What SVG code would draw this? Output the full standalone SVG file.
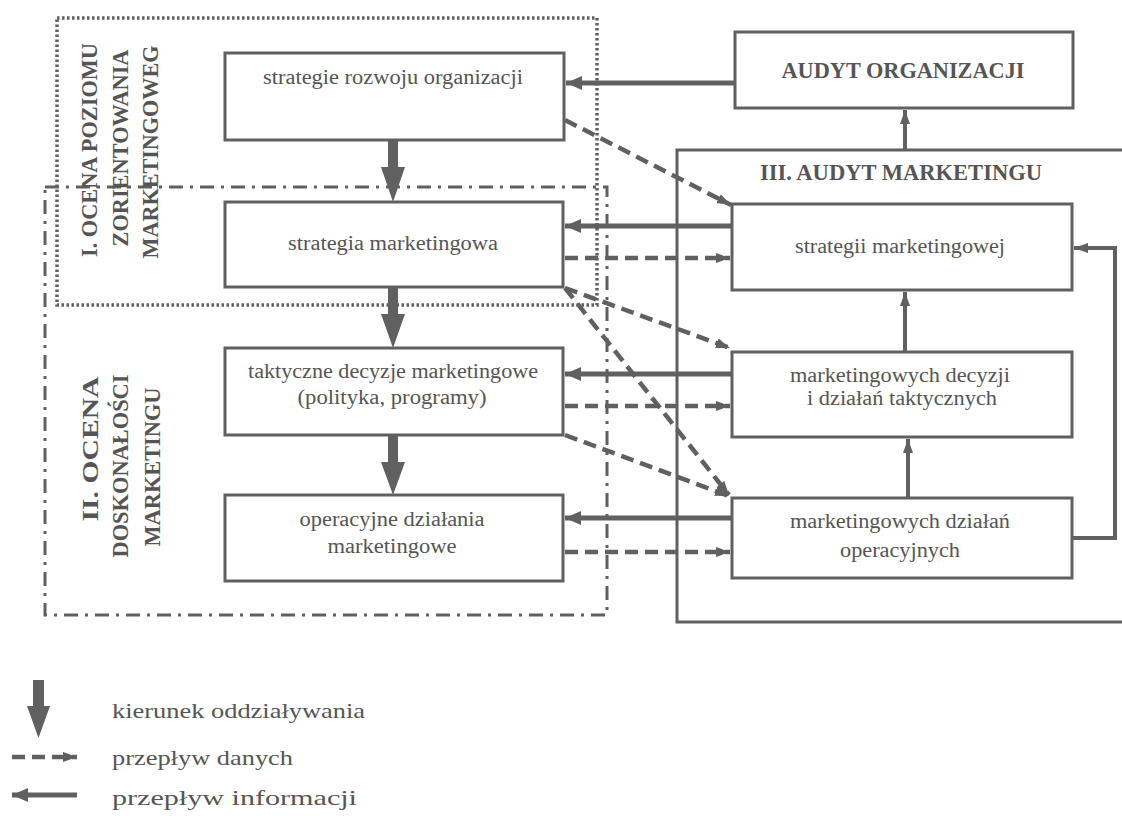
<svg xmlns="http://www.w3.org/2000/svg" width="1122" height="816" viewBox="0 0 1122 816">
<style>
.box{fill:#fff;stroke:#606060;stroke-width:3}
.t{font-family:"Liberation Serif","DejaVu Serif",serif;font-size:20px;fill:#555;text-anchor:middle}
.tb{font-family:"Liberation Serif","DejaVu Serif",serif;font-size:23px;font-weight:bold;fill:#555;text-anchor:middle}
.tv{font-family:"Liberation Serif","DejaVu Serif",serif;font-size:24px;font-weight:bold;fill:#555;text-anchor:middle}
.lg{font-family:"Liberation Serif","DejaVu Serif",serif;font-size:22px;fill:#555}
.info{stroke:#606060;stroke-width:5;fill:none}
.data{stroke:#606060;stroke-width:4.5;fill:none;stroke-dasharray:13 7}
.thin{stroke:#606060;stroke-width:4;fill:none}
.big{fill:#606060}
</style>
<defs>
<marker id="ah" markerUnits="userSpaceOnUse" markerWidth="18" markerHeight="16" refX="16" refY="8" orient="auto">
<path d="M0,1 L16,8 L0,15 Z" fill="#606060"/>
</marker>
<marker id="ahs" markerUnits="userSpaceOnUse" markerWidth="16" markerHeight="12" refX="14" refY="6" orient="auto">
<path d="M0,1 L14,6 L0,11 Z" fill="#606060"/>
</marker>
</defs>

<rect width="1122" height="816" fill="#fff"/>

<!-- region frames -->
<g id="frames">
<rect x="57" y="18" width="540" height="287" fill="none" stroke="#606060" stroke-width="3.5" stroke-dasharray="2.5 2.5"/>
<rect x="45" y="187" width="562" height="428" fill="none" stroke="#606060" stroke-width="3" stroke-dasharray="14 7 3 7"/>
<path d="M1122,150 L677,150 L677,622 L1122,622" fill="none" stroke="#606060" stroke-width="3"/>
</g>

<g id="label-I">
<text class="tv" transform="translate(97,150) rotate(-90)" textLength="214" lengthAdjust="spacingAndGlyphs">I. OCENA POZIOMU</text>
<text class="tv" transform="translate(128,148) rotate(-90)" textLength="197" lengthAdjust="spacingAndGlyphs">ZORIENTOWANIA</text>
<text class="tv" transform="translate(158,152) rotate(-90)" textLength="213" lengthAdjust="spacingAndGlyphs">MARKETINGOWEG</text>
</g>
<g id="label-II">
<text class="tv" transform="translate(98,449) rotate(-90)" textLength="145" lengthAdjust="spacingAndGlyphs">II. OCENA</text>
<text class="tv" transform="translate(128,466) rotate(-90)" textLength="183" lengthAdjust="spacingAndGlyphs">DOSKONAŁOŚCI</text>
<text class="tv" transform="translate(160,467) rotate(-90)" textLength="159" lengthAdjust="spacingAndGlyphs">MARKETINGU</text>
</g>
<g id="label-III">
<text class="tb" x="901" y="180" textLength="282" lengthAdjust="spacingAndGlyphs">III. AUDYT MARKETINGU</text>
</g>

<!-- connectors -->
<g id="connectors">
<!-- influence (big down arrows) -->
<path class="big" d="M388,140 H398 V167 H405 L393,202 L381,167 H388 Z"/>
<path class="big" d="M388,287 H398 V314 H405 L393,348 L381,314 H388 Z"/>
<path class="big" d="M388,435 H398 V462 H405 L393,495 L381,462 H388 Z"/>
<!-- info flow -->
<line class="info" x1="735" y1="83" x2="566" y2="83" marker-end="url(#ah)"/>
<line class="info" x1="732" y1="226" x2="565" y2="226" marker-end="url(#ah)"/>
<line class="info" x1="732" y1="374" x2="565" y2="374" marker-end="url(#ah)"/>
<line class="info" x1="732" y1="518" x2="565" y2="518" marker-end="url(#ah)"/>
<!-- upward audits -->
<line class="thin" x1="905" y1="150" x2="905" y2="110" marker-end="url(#ahs)"/>
<line class="thin" x1="905" y1="352" x2="905" y2="292" marker-end="url(#ahs)"/>
<line class="thin" x1="908" y1="498" x2="908" y2="439" marker-end="url(#ahs)"/>
<path class="thin" d="M1072,538 H1115 V248 H1074" marker-end="url(#ahs)"/>
<!-- data flow -->
<line class="data" x1="565" y1="258" x2="730" y2="258" marker-end="url(#ahs)"/>
<line class="data" x1="565" y1="406" x2="730" y2="406" marker-end="url(#ahs)"/>
<line class="data" x1="565" y1="552" x2="730" y2="552" marker-end="url(#ahs)"/>
<line class="data" x1="565" y1="120" x2="731" y2="205" marker-end="url(#ahs)"/>
<line class="data" x1="565" y1="288" x2="730" y2="348" marker-end="url(#ahs)"/>
<line class="data" x1="565" y1="288" x2="729" y2="495" marker-end="url(#ahs)"/>
<line class="data" x1="565" y1="435" x2="729" y2="496" marker-end="url(#ahs)"/>
</g>

<!-- nodes -->
<g id="n-rozwoj">
<rect class="box" x="225" y="53" width="339" height="87"/>
<text class="t" x="393" y="84" textLength="260" lengthAdjust="spacingAndGlyphs">strategie rozwoju organizacji</text>
</g>
<g id="n-strat">
<rect class="box" x="225" y="202" width="338" height="85"/>
<text class="t" x="393" y="250" textLength="210" lengthAdjust="spacingAndGlyphs">strategia marketingowa</text>
</g>
<g id="n-takt">
<rect class="box" x="225" y="348" width="338" height="87"/>
<text class="t" x="393" y="378" textLength="290" lengthAdjust="spacingAndGlyphs">taktyczne decyzje marketingowe</text>
<text class="t" x="392" y="404" textLength="189" lengthAdjust="spacingAndGlyphs">(polityka, programy)</text>
</g>
<g id="n-oper">
<rect class="box" x="225" y="495" width="338" height="86"/>
<text class="t" x="392" y="526" textLength="185" lengthAdjust="spacingAndGlyphs">operacyjne działania</text>
<text class="t" x="392" y="553" textLength="129" lengthAdjust="spacingAndGlyphs">marketingowe</text>
</g>
<g id="n-audyt-org">
<rect class="box" x="735" y="32" width="338" height="76"/>
<text class="tb" x="903" y="78" textLength="243" lengthAdjust="spacingAndGlyphs">AUDYT ORGANIZACJI</text>
</g>
<g id="n-a-strat">
<rect class="box" x="732" y="204" width="340" height="86"/>
<text class="t" x="900" y="253" textLength="210" lengthAdjust="spacingAndGlyphs">strategii marketingowej</text>
</g>
<g id="n-a-takt">
<rect class="box" x="732" y="352" width="340" height="85"/>
<text class="t" x="900" y="382" textLength="220" lengthAdjust="spacingAndGlyphs">marketingowych decyzji</text>
<text class="t" x="902" y="405" textLength="190" lengthAdjust="spacingAndGlyphs">i działań taktycznych</text>
</g>
<g id="n-a-oper">
<rect class="box" x="732" y="498" width="340" height="80"/>
<text class="t" x="900" y="528" textLength="220" lengthAdjust="spacingAndGlyphs">marketingowych działań</text>
<text class="t" x="900" y="557" textLength="120" lengthAdjust="spacingAndGlyphs">operacyjnych</text>
</g>

<!-- legend -->
<g id="legend">
<path class="big" d="M33,680 H44 V706 H50 L38.5,738 L27,706 H33 Z"/>
<text class="lg" x="112" y="718" textLength="253" lengthAdjust="spacingAndGlyphs">kierunek oddziaływania</text>
<line class="data" x1="12" y1="757" x2="77" y2="757" stroke-dasharray="15 15" marker-end="url(#ahs)"/>
<text class="lg" x="112" y="765" textLength="181" lengthAdjust="spacingAndGlyphs">przepływ danych</text>
<line class="info" x1="77" y1="795" x2="12" y2="795" marker-end="url(#ah)"/>
<text class="lg" x="112" y="805" textLength="245" lengthAdjust="spacingAndGlyphs">przepływ informacji</text>
</g>
</svg>
